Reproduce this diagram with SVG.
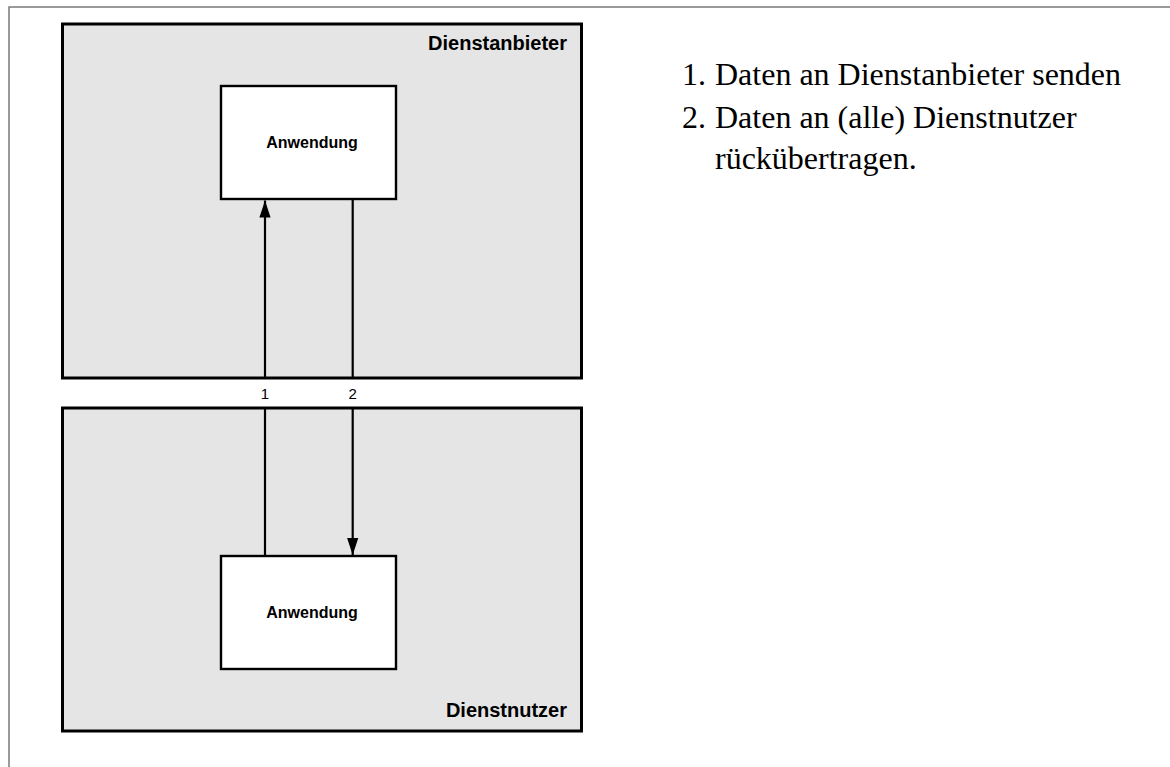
<svg xmlns="http://www.w3.org/2000/svg" width="1170" height="767" viewBox="0 0 1170 767">
  <style>
    .frame { fill: none; stroke: #7a7a7a; stroke-width: 1.5; }
    .zone { fill: #e5e5e5; stroke: #000; stroke-width: 3; }
    .app { fill: #fff; stroke: #000; stroke-width: 2.4; }
    .zone-label { font-family: "Liberation Sans", Arial, sans-serif; font-weight: bold; font-size: 20px; fill: #000; text-anchor: end; }
    .app-label { font-family: "Liberation Sans", Arial, sans-serif; font-weight: bold; font-size: 16px; fill: #000; text-anchor: middle; }
    .flow { fill: none; stroke: #000; stroke-width: 2.2; }
    .flow-label { font-family: "Liberation Sans", Arial, sans-serif; font-size: 15px; fill: #000; text-anchor: middle; }
    .notes { font-family: "Liberation Serif", "Times New Roman", serif; font-size: 32px; fill: #000; }
  </style>
  <defs>
    <marker id="arrow" viewBox="0 0 17 12" refX="17" refY="6" markerWidth="17" markerHeight="12" markerUnits="userSpaceOnUse" orient="auto">
      <path d="M0,0.4 L17,6 L0,11.6 Z" fill="#000"/>
    </marker>
  </defs>

  <rect width="1170" height="767" fill="#fff"/>
  <!-- page frame (top and left edges only) -->
  <path class="frame" d="M9,767 L9,7 L1170,7"/>

  <g id="dienstanbieter">
    <rect class="zone" x="62.5" y="24" width="519" height="354"/>
    <text class="zone-label" x="567" y="50">Dienstanbieter</text>
  </g>

  <g id="anwendung-anbieter">
    <rect class="app" x="221" y="86" width="175" height="113"/>
    <text class="app-label" x="312" y="147.5">Anwendung</text>
  </g>

  <g id="dienstnutzer">
    <rect class="zone" x="62.5" y="408" width="519" height="323"/>
    <text class="zone-label" x="567" y="717">Dienstnutzer</text>
  </g>

  <g id="anwendung-nutzer">
    <rect class="app" x="221" y="556" width="175" height="113"/>
    <text class="app-label" x="312" y="617.5">Anwendung</text>
  </g>

  <g id="connectors">
    <!-- 1: user application up to provider application -->
    <path class="flow" d="M265,555 L265,408 M265,378 L265,200.5" marker-end="url(#arrow)"/>
    <text class="flow-label" x="265" y="398.5">1</text>
    <!-- 2: provider application back down to user application -->
    <path class="flow" d="M352.7,200 L352.7,378 M352.7,408 L352.7,555" marker-end="url(#arrow)"/>
    <text class="flow-label" x="352.7" y="398.5">2</text>
  </g>

  <g id="steps">
    <text class="notes" x="682" y="85">1.</text>
    <text class="notes" x="715" y="85">Daten an Dienstanbieter senden</text>
    <text class="notes" x="682" y="128">2.</text>
    <text class="notes" x="715" y="128">Daten an (alle) Dienstnutzer</text>
    <text class="notes" x="715" y="169">rückübertragen.</text>
  </g>
</svg>
